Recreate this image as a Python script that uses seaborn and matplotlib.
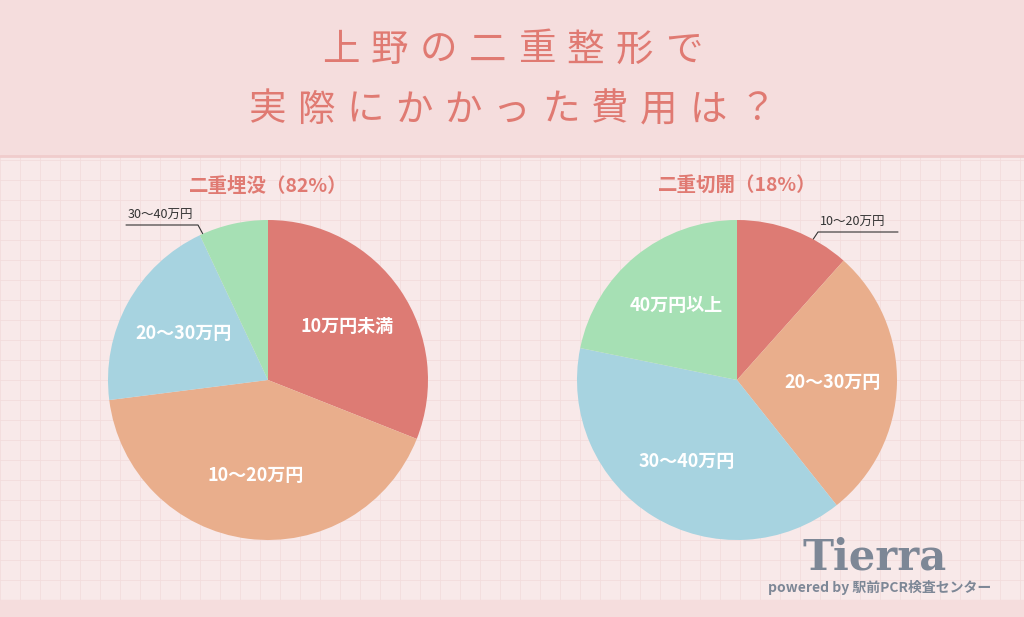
import matplotlib
matplotlib.use('Agg')
import matplotlib.pyplot as plt
import seaborn as sns

sns.set_theme(style="white")
plt.rcParams['font.family'] = 'Noto Sans CJK JP'

title_lines = ["上野の二重整形で", "実際にかかった費用は？"]

left_title = "二重埋没（82%）"
left_labels = ["10万円未満", "10〜20万円", "20〜30万円", "30〜40万円"]
left_values = [31, 42, 20, 7]

right_title = "二重切開（18%）"
right_labels = ["10〜20万円", "20〜30万円", "30〜40万円", "40万円以上"]
right_values = [11.6, 27.7, 38.9, 21.8]

pie_colors = ["#dd7b74", "#e9ae8c", "#a7d3e0", "#a6e0b4"]
title_color = "#e07a72"

W, H = 1024, 617
fig = plt.figure(figsize=(W / 100, H / 100), dpi=100, facecolor="#f8e9e9")

# background with faint grid
bg = fig.add_axes([0, 0, 1, 1])
bg.set_xlim(0, W)
bg.set_ylim(H, 0)
bg.axis("off")
for x in range(0, W, 20):
    bg.axvline(x, color="#f3dcdc", lw=0.6, zorder=0)
for y in range(0, H, 20):
    bg.axhline(y, color="#f3dcdc", lw=0.6, zorder=0)
bg.add_patch(plt.Rectangle((0, 0), W, 155, color="#f5dddd", zorder=1))
bg.axhline(156, color="#f0cccc", lw=2, zorder=2)
bg.add_patch(plt.Rectangle((0, 600), W, 17, color="#f5dddd", zorder=1))

# letter-spaced title, one glyph at a time
pitch = 49
for y, line in zip([50, 110], title_lines):
    x0 = W / 2 - pitch * (len(line) - 1) / 2
    for i, ch in enumerate(line):
        bg.text(x0 + i * pitch, y, ch, ha="center", va="center", fontsize=27,
                color=title_color, zorder=3)

bg.text(268, 186, left_title, ha="center", va="center", fontsize=14, color=title_color,
        fontweight="bold", zorder=3)
bg.text(737, 186, right_title, ha="center", va="center", fontsize=14, color=title_color,
        fontweight="bold", zorder=3)
bg.text(875, 557, "Tierra", ha="center", va="center", fontsize=30, color="#7d8796",
        fontfamily="DejaVu Serif", fontweight="bold", zorder=3)
bg.text(880, 587, "powered by 駅前PCR検査センター", ha="center", va="center", fontsize=10,
        color="#7d8796", fontweight="bold", zorder=3)


def draw_pie(cx, values, labels, colors, small_idx, small_text_xy, small_line):
    r = 160
    ax = fig.add_axes([(cx - r) / W, (H - 380 - r) / H, 2 * r / W, 2 * r / H])
    ax.pie(values, colors=colors, startangle=90, counterclock=False,
           labels=[l if i != small_idx else "" for i, l in enumerate(labels)],
           labeldistance=0.6, radius=1, frame=False,
           wedgeprops=dict(linewidth=0),
           textprops=dict(color="white", fontsize=13, fontweight="bold",
                          ha="center", va="center"))
    ax.set_xlim(-1, 1)
    ax.set_ylim(-1, 1)
    ax.set_aspect("equal")
    ax.axis("off")
    bg.text(*small_text_xy, labels[small_idx], fontsize=9, color="#333333",
            ha="left", va="bottom", zorder=3)
    bg.plot(*small_line, color="#333333", lw=0.8, zorder=3)


draw_pie(268, left_values, left_labels, pie_colors, 3, (128, 222),
         ([126, 198, 205], [225, 225, 238]))
draw_pie(737, right_values, right_labels, pie_colors, 0, (820, 229),
         ([898, 818, 810], [232, 232, 244]))

fig.savefig("out.png", dpi=100, facecolor=fig.get_facecolor())
